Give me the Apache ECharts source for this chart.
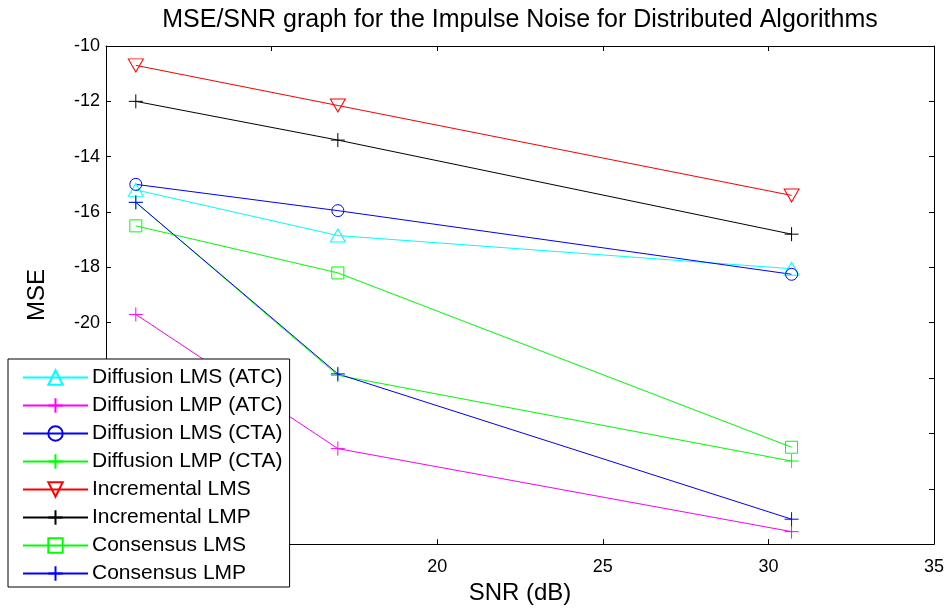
<!DOCTYPE html>
<html>
<head>
<meta charset="utf-8">
<script src="https://cdn.jsdelivr.net/npm/echarts@6/dist/echarts.min.js"></script>
<style>
  html, body { margin: 0; padding: 0; background: #fff; }
  #chart { width: 947px; height: 610px; }
</style>
</head>
<body>
<div id="chart"></div>
<script>
// ---- Data ----
const snr = [10.9, 17.0, 30.7];
const seriesNames = [
  'Diffusion LMS (ATC)', 'Diffusion LMP (ATC)', 'Diffusion LMS (CTA)', 'Diffusion LMP (CTA)',
  'Incremental LMS', 'Incremental LMP', 'Consensus LMS', 'Consensus LMP'
];
const diffLmsAtc = [-15.2, -16.85, -18.05];
const diffLmpAtc = [-19.7, -24.55, -27.55];
const diffLmsCta = [-15.0, -15.95, -18.25];
const diffLmpCta = [-15.65, -21.9, -25.0];
const incLms = [-10.7, -12.15, -15.4];
const incLmp = [-12.0, -13.4, -16.8];
const consLms = [-16.5, -18.2, -24.5];
const consLmp = [-15.65, -21.85, -27.1];
const xTicks = [10, 15, 20, 25, 30, 35];
const yTicks = [-28, -26, -24, -22, -20, -18, -16, -14, -12, -10];

const allValues = [diffLmsAtc, diffLmpAtc, diffLmsCta, diffLmpCta, incLms, incLmp, consLms, consLmp];
const colors = ['#00FFFF', '#FF00FF', '#0000FF', '#00FF00', '#FF0000', '#000000', '#00FF00', '#0000FF'];

const PLUS = 'path://M0,-7L0,7M-7,0L7,0';
const TRI_DOWN = 'path://M-7,-6L7,-6L0,6Z';
const TRI_UP = 'path://M0,-6L7,6L-7,6Z';
const markers = [
  {symbol: TRI_UP, size: [15, 13]},
  {symbol: PLUS, size: 14},
  {symbol: 'circle', size: 12},
  {symbol: PLUS, size: 14},
  {symbol: TRI_DOWN, size: [15, 13]},
  {symbol: PLUS, size: 14},
  {symbol: 'rect', size: 12},
  {symbol: PLUS, size: 14}
];

const FONT = '"Liberation Sans", Arial, Helvetica, sans-serif';

const series = allValues.map((vals, i) => ({
  name: seriesNames[i],
  type: 'line',
  data: snr.map((x, k) => [x, vals[k]]),
  symbol: markers[i].symbol,
  symbolSize: markers[i].size,
  showAllSymbol: true,
  animation: false,
  lineStyle: { color: colors[i], width: 1 },
  itemStyle: { color: 'rgba(0,0,0,0)', borderColor: colors[i], borderWidth: 1 },
  emphasis: { disabled: true }
}));

const xMin = xTicks[0], xMax = xTicks[xTicks.length - 1];
const yMin = yTicks[0], yMax = yTicks[yTicks.length - 1];
const xInt = xTicks[1] - xTicks[0];
const yInt = yTicks[1] - yTicks[0];

const axisLineStyle = { show: true, lineStyle: { color: '#000', width: 1 } };
const tickStyle = { show: true, inside: true, length: 5, lineStyle: { color: '#000', width: 1 } };

const chart = echarts.init(document.getElementById('chart'), null, { renderer: 'canvas' });
chart.setOption({
  backgroundColor: '#fff',
  animation: false,
  grid: { left: 106, right: 11, top: 46, bottom: 59, containLabel: false },
  legend: {
    orient: 'vertical',
    left: 8,
    top: 359,
    data: seriesNames,
    backgroundColor: '#fff',
    borderColor: '#000',
    borderWidth: 1,
    borderRadius: 0,
    padding: [8, 7, 3, 14],
    itemWidth: 65,
    itemHeight: 18,
    itemGap: 7,
    selectedMode: false,
    textStyle: { fontFamily: FONT, fontSize: 21, color: '#000', padding: [0, 0, 0, -1] }
  },
  xAxis: [
    {
      type: 'value', position: 'bottom', min: xMin, max: xMax, interval: xInt,
      name: 'SNR (dB)', nameLocation: 'middle', nameGap: 35,
      nameTextStyle: { fontFamily: FONT, fontSize: 24, color: '#000' },
      axisLine: axisLineStyle, axisTick: tickStyle, splitLine: { show: false },
      axisLabel: { fontFamily: FONT, fontSize: 18, color: '#000', margin: 14 }
    },
    {
      type: 'value', position: 'top', min: xMin, max: xMax, interval: xInt,
      name: 'MSE/SNR graph for the Impulse Noise for Distributed Algorithms',
      nameLocation: 'middle', nameGap: 13,
      nameTextStyle: { fontFamily: FONT, fontSize: 25, color: '#000' },
      axisLine: axisLineStyle, axisTick: tickStyle, splitLine: { show: false },
      axisLabel: { show: false }
    }
  ],
  yAxis: [
    {
      type: 'value', position: 'left', min: yMin, max: yMax, interval: yInt,
      name: 'MSE', nameLocation: 'middle', nameGap: 57, nameRotate: 90,
      nameTextStyle: { fontFamily: FONT, fontSize: 24, color: '#000' },
      axisLine: axisLineStyle, axisTick: tickStyle, splitLine: { show: false },
      axisLabel: { fontFamily: FONT, fontSize: 18, color: '#000', margin: 6 }
    },
    {
      type: 'value', position: 'right', min: yMin, max: yMax, interval: yInt,
      axisLine: axisLineStyle, axisTick: tickStyle, splitLine: { show: false },
      axisLabel: { show: false }
    }
  ],
  series: series
});
</script>
</body>
</html>
